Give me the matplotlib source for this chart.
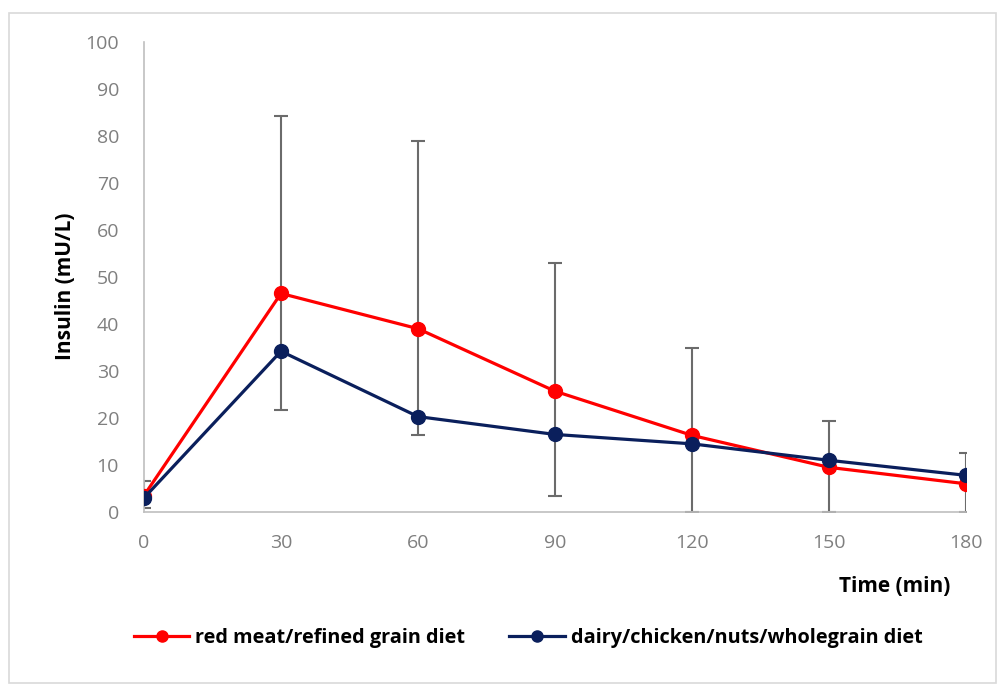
import matplotlib.pyplot as plt
from matplotlib.patches import Rectangle
import numpy as np

plt.rcParams['font.family'] = ['Open Sans', 'DejaVu Sans']

time = [0, 30, 60, 90, 120, 150, 180]
red_meat = [3.5, 46.5, 39.0, 25.7, 16.3, 9.5, 6.0]
dairy = [3.0, 34.2, 20.3, 16.5, 14.5, 11.0, 7.8]
err_low = [0.8, 21.8, 16.3, 3.4, 0.0, 0.0, 0.0]
err_high = [6.6, 84.3, 79.0, 53.0, 35.0, 19.4, 12.6]

fig = plt.figure(figsize=(10.01, 6.84), dpi=100)
fig.patches.append(Rectangle((9 / 1001, 0.002), 0.995 - 9 / 1001, 1 - 13 / 684 - 0.002,
                             transform=fig.transFigure, fill=False,
                             edgecolor='#d9d9d9', lw=1.2))
ax = fig.add_axes([144 / 1001, 1 - 512 / 684, 822 / 1001, 470 / 684])

lo = np.array(err_low)
hi = np.array(err_high)
ax.errorbar(time, lo, yerr=[np.zeros_like(lo), hi - lo], fmt='none',
            ecolor='#6b6b6b', elinewidth=1.5, capsize=5, capthick=1.5, zorder=1)

ax.plot(time, red_meat, color='#ff0000', lw=2.3, marker='o', ms=10,
        label='red meat/refined grain diet', zorder=3)
ax.plot(time, dairy, color='#0a1f5c', lw=2.3, marker='o', ms=10,
        label='dairy/chicken/nuts/wholegrain diet', zorder=4)

ax.set_xlim(0, 180)
ax.set_ylim(0, 100)
ax.set_xticks(time)
ax.set_yticks(range(0, 101, 10))
ax.tick_params(length=0, labelsize=14, labelcolor='#7f7f7f')
ax.tick_params(axis='y', pad=18)
ax.tick_params(axis='x', pad=16)
for s in ['top', 'right']:
    ax.spines[s].set_visible(False)
for s in ['left', 'bottom']:
    ax.spines[s].set_color('#bfbfbf')
    ax.spines[s].set_linewidth(1.2)

ax.set_ylabel('Insulin (mU/L)', fontsize=15, fontweight='bold')
ax.yaxis.set_label_coords(-0.083, 0.48)
fig.text(950 / 1001, 1 - 586 / 684, 'Time (min)', fontsize=15, fontweight='bold',
         ha='right', va='center')

fig.legend(loc='center', bbox_to_anchor=(528 / 1001, 1 - 638 / 684), ncol=2, frameon=False,
           prop={'weight': 'bold', 'size': 14.3}, handlelength=2.8,
           columnspacing=2.2, handletextpad=0.3, markerscale=0.8)

fig.savefig('out.png', dpi=100)
